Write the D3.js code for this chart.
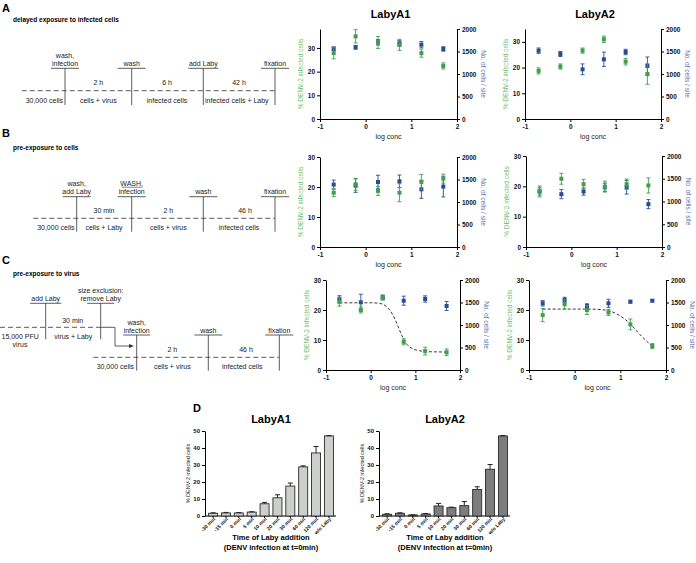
<!DOCTYPE html>
<html>
<head>
<meta charset="utf-8">
<script src="https://cdn.jsdelivr.net/npm/d3@7"></script>
<style>
body { margin: 0; background: #fff; }
svg { font-family: "Liberation Sans", Arial, sans-serif; }
</style>
</head>
<body>
<svg id="fig" width="696" height="563"></svg>
<script>
// ---------- data ----------
const logConc = [-0.7, -0.22, 0.27, 0.74, 1.22, 1.7];

// A: delayed exposure
const a1Green = [27.8, 34.9, 32.3, 31.3, 27.8, 22.4];
const a1GreenErr = [2.4, 2.8, 2.5, 2.3, 1.7, 1.3];
const a1Blue = [1562, 1593, 1704, 1682, 1651, 1556];
const a1BlueErr = [40, 40, 60, 60, 70, 50];
const a2Green = [18.7, 20.4, 26.6, 31.0, 22.3, 17.5];
const a2GreenErr = [1.2, 1.0, 1.0, 1.2, 1.3, 4.0];
const a2Blue = [1518, 1444, 1104, 1326, 1489, 1178];
const a2BlueErr = [60, 55, 120, 160, 60, 200];

// B: pre-exposure to cells
const b1Green = [18.1, 20.9, 18.7, 18.1, 21.7, 22.8];
const b1GreenErr = [1.3, 2.0, 1.5, 3.0, 2.5, 1.5];
const b1Blue = [1387, 1364, 1444, 1460, 1282, 1342];
const b1BlueErr = [100, 150, 150, 140, 200, 230];
const b2Green = [18.3, 22.5, 20.7, 19.9, 20.7, 20.3];
const b2GreenErr = [1.8, 1.8, 1.6, 1.8, 1.7, 2.5];
const b2Blue = [1220, 1161, 1218, 1313, 1313, 942];
const b2BlueErr = [80, 100, 80, 90, 150, 100];

// C: pre-exposure to virus
const c1Green = [22.8, 20.0, 24.1, 9.4, 6.3, 5.9];
const c1GreenErr = [1.5, 1.0, 0.8, 1.0, 1.3, 1.1];
const c1Blue = [1571, 1504, 1615, 1540, 1578, 1422];
const c1BlueErr = [80, 180, 50, 100, 70, 100];
const c2Green = [18.3, 21.9, 20.0, 19.2, 15.2, 8.0];
const c2GreenErr = [2.2, 1.5, 1.5, 1.0, 1.8, 0.8];
const c2Blue = [1482, 1556, 1422, 1482, 1518, 1540];
const c2BlueErr = [60, 60, 50, 90, 30, 25];

// fitted dose-response curves
const c1FitX = [-0.7, 0, 0.2, 0.35, 0.5, 0.6, 0.7, 0.8, 0.95, 1.1, 1.3, 1.7];
const c1FitY = [22.4, 22.4, 22.2, 21.2, 18.3, 15, 11.5, 8.8, 7.0, 6.4, 6.1, 6.0];
const c2FitX = [-0.7, 0.3, 0.6, 0.8, 1.0, 1.2, 1.4, 1.55, 1.7];
const c2FitY = [20.3, 20.3, 20.1, 19.5, 18.0, 15.6, 12.3, 10.0, 7.9];

// D: time of addition
const times = ["-30 min", "-15 min", "0 min", "5 min", "10 min", "20 min", "30 min", "60 min", "120 min", "w/o Laby"];
const d1Values = [1.6, 1.8, 1.8, 2.3, 7.2, 10.7, 17.6, 28.9, 37.1, 47.1];
const d1Err = [0.3, 0.3, 0.2, 0.2, 0.8, 1.8, 1.8, 0.6, 3.8, 0.2];
const d2Values = [1.0, 1.6, 0.6, 1.2, 5.9, 4.9, 6.1, 15.6, 27.5, 47.1];
const d2Err = [0.3, 0.3, 0.1, 0.3, 1.5, 0.3, 2.4, 1.6, 2.8, 0.2];

const leftTicks = [0, 10, 20, 30];
const rightTicks = [0, 500, 1000, 1500, 2000];
const xTicks = [-1, 0, 1, 2];
const barTicks = [0, 10, 20, 30, 40, 50];

const GREEN = "#3f9f4a";
const GREEN_LABEL = "#6cc06d";
const BLUE = "#2a4c97";
const BLUE_LABEL = "#5b6eb3";
const INK = "#333";

const svg = d3.select("#fig");

// ---------- helpers ----------
function styleAxis(g, size) {
  g.selectAll("path.domain").attr("stroke", "#000").attr("stroke-width", 1);
  g.selectAll(".tick line").attr("stroke", "#000");
  g.selectAll(".tick text")
    .attr("fill", "#111")
    .attr("font-size", size)
    .attr("font-weight", "bold")
    .attr("font-family", "Liberation Sans, Arial, sans-serif");
}

function doseChart(o) {
  const x = d3.scaleLinear().domain([-1, 2]).range([o.x0, o.x1]);
  const yL = d3.scaleLinear().domain([0, o.leftMax]).range([o.y1, o.y0]);
  const yR = d3.scaleLinear().domain([0, 2000]).range([o.y1, o.y0]);
  const g = svg.append("g");

  g.append("g").attr("transform", `translate(${o.x0},0)`)
    .call(d3.axisLeft(yL).tickValues(leftTicks).tickSize(3).tickSizeOuter(0).tickPadding(2))
    .call(a => styleAxis(a, 6.5));
  g.append("g").attr("transform", `translate(${o.x1},0)`)
    .call(d3.axisRight(yR).tickValues(rightTicks).tickFormat(d3.format("d")).tickSize(3).tickSizeOuter(0).tickPadding(2))
    .call(a => styleAxis(a, 6.5));
  g.append("g").attr("transform", `translate(0,${o.y1})`)
    .call(d3.axisBottom(x).tickValues(xTicks).tickFormat(d => String(d)).tickSize(3).tickSizeOuter(0).tickPadding(2))
    .call(a => styleAxis(a, 6.5));

  if (o.title) {
    g.append("text").attr("x", (o.x0 + o.x1) / 2 + 2).attr("y", o.y0 - 11)
      .attr("text-anchor", "middle").attr("font-size", 11).attr("font-weight", "bold")
      .text(o.title);
  }
  g.append("text").attr("x", (o.x0 + o.x1) / 2).attr("y", o.y1 + 20)
    .attr("text-anchor", "middle").attr("font-size", 7).attr("fill", "#222")
    .text("log conc");

  const cy = (o.y0 + o.y1) / 2;
  g.append("text").attr("transform", `translate(${o.x0 - 17},${cy}) rotate(-90)`)
    .attr("text-anchor", "middle").attr("font-size", 6.5).attr("fill", GREEN_LABEL)
    .text("% DENV-2 infected cells");
  g.append("text").attr("transform", `translate(${o.x1 + 24},${cy}) rotate(90)`)
    .attr("text-anchor", "middle").attr("font-size", 6.5).attr("fill", BLUE_LABEL)
    .text("No. of cells / site");

  if (o.fitX) {
    const pts = o.fitX.map((v, i) => [v, o.fitY[i]]);
    g.append("path")
      .attr("d", d3.line().x(d => x(d[0])).y(d => yL(d[1])).curve(d3.curveMonotoneX)(pts))
      .attr("fill", "none").attr("stroke", "#222").attr("stroke-width", 0.9)
      .attr("stroke-dasharray", "3,2");
  }

  function series(vals, errs, y, color) {
    const s = g.append("g").attr("stroke", color).attr("fill", color);
    logConc.forEach((c, i) => {
      const px = x(c);
      const top = y(vals[i] + errs[i]);
      const bot = y(vals[i] - errs[i]);
      s.append("line").attr("x1", px).attr("x2", px).attr("y1", top).attr("y2", bot).attr("stroke-width", 0.9);
      s.append("line").attr("x1", px - 2).attr("x2", px + 2).attr("y1", top).attr("y2", top).attr("stroke-width", 0.9);
      s.append("line").attr("x1", px - 2).attr("x2", px + 2).attr("y1", bot).attr("y2", bot).attr("stroke-width", 0.9);
      s.append("rect").attr("x", px - 2).attr("y", y(vals[i]) - 2).attr("width", 4).attr("height", 4).attr("stroke", "none");
    });
  }
  series(o.blue, o.blueErr, yR, BLUE);
  series(o.green, o.greenErr, yL, GREEN);
}

function barChart(o) {
  const x = d3.scaleBand().domain(times).range([o.axisX + 1, o.axisX + 131]).paddingInner(0.3).paddingOuter(0.2);
  const y = d3.scaleLinear().domain([0, 50]).range([o.y1, o.y0]);
  const g = svg.append("g");

  g.append("g").attr("transform", `translate(${o.axisX},0)`)
    .call(d3.axisLeft(y).tickValues(barTicks).tickSize(3).tickSizeOuter(0).tickPadding(2))
    .call(a => styleAxis(a, 6));
  g.append("line").attr("x1", o.axisX).attr("x2", o.axisX + 131)
    .attr("y1", o.y1).attr("y2", o.y1).attr("stroke", "#000");

  times.forEach((t, i) => {
    const bx = x(t);
    const bw = x.bandwidth();
    const cx = bx + bw / 2;
    g.append("rect").attr("x", bx).attr("y", y(o.values[i])).attr("width", bw)
      .attr("height", o.y1 - y(o.values[i])).attr("fill", o.fill)
      .attr("stroke", "#2a2a2a").attr("stroke-width", 0.9);
    const et = y(o.values[i] + o.err[i]);
    g.append("line").attr("x1", cx).attr("x2", cx).attr("y1", y(o.values[i])).attr("y2", et).attr("stroke", "#222");
    g.append("line").attr("x1", cx - 2.5).attr("x2", cx + 2.5).attr("y1", et).attr("y2", et).attr("stroke", "#222");
    g.append("line").attr("x1", cx).attr("x2", cx).attr("y1", o.y1).attr("y2", o.y1 + 2).attr("stroke", "#000");
    g.append("text").attr("transform", `translate(${cx + 2.5},${o.y1 + 3.5}) rotate(-45)`)
      .attr("text-anchor", "end").attr("font-size", 5).attr("font-weight", "bold").attr("fill", "#111")
      .text(t);
  });

  const mid = o.axisX + 66;
  g.append("text").attr("x", mid).attr("y", o.y0 - 8).attr("text-anchor", "middle")
    .attr("font-size", 11).attr("font-weight", "bold").text(o.title);
  g.append("text").attr("transform", `translate(${o.axisX - 15},${(o.y0 + o.y1) / 2}) rotate(-90)`)
    .attr("text-anchor", "middle").attr("font-size", 5.5).attr("fill", "#222")
    .text("% DENV-2 infected cells");
  g.append("text").attr("x", mid).attr("y", 540).attr("text-anchor", "middle")
    .attr("font-size", 7.5).attr("font-weight", "bold").text("Time of Laby addition");
  g.append("text").attr("x", mid).attr("y", 550).attr("text-anchor", "middle")
    .attr("font-size", 7.5).attr("font-weight", "bold").text("(DENV infection at t=0min)");
}

// ---------- timeline schematics ----------
const tl = svg.append("g").attr("font-size", 7).attr("fill", "#222");

function panelLetter(letter, x, y, sub, subY) {
  svg.append("text").attr("x", x).attr("y", y).attr("font-size", 11).attr("font-weight", "bold").text(letter);
  if (sub) {
    svg.append("text").attr("x", 13).attr("y", subY).attr("font-size", 6.5).attr("font-weight", "bold").text(sub);
  }
}

function dashed(x1, x2, y) {
  tl.append("line").attr("x1", x1).attr("x2", x2).attr("y1", y).attr("y2", y)
    .attr("stroke", INK).attr("stroke-width", 0.8).attr("stroke-dasharray", "5,3");
}

function marker(x, ulY, bottom, lines, ulW, underlineFirst) {
  tl.append("line").attr("x1", x - ulW / 2).attr("x2", x + ulW / 2).attr("y1", ulY).attr("y2", ulY)
    .attr("stroke", INK).attr("stroke-width", 0.8);
  tl.append("line").attr("x1", x).attr("x2", x).attr("y1", ulY).attr("y2", bottom)
    .attr("stroke", INK).attr("stroke-width", 0.8);
  const n = lines.length;
  lines.forEach((t, i) => {
    const ty = ulY - 2.5 - (n - 1 - i) * 8;
    tl.append("text").attr("x", x).attr("y", ty).attr("text-anchor", "middle").text(t);
    if (underlineFirst && i === 0) {
      tl.append("line").attr("x1", x - 10).attr("x2", x + 10).attr("y1", ty + 1).attr("y2", ty + 1)
        .attr("stroke", INK).attr("stroke-width", 0.6);
    }
  });
}

function label(t, x, y, anchor) {
  tl.append("text").attr("x", x).attr("y", y).attr("text-anchor", anchor || "middle").text(t);
}

// A
panelLetter("A", 2, 12, "delayed exposure to infected cells", 22);
dashed(21.7, 275, 90.7);
marker(65, 68.3, 105, ["wash,", "infection"], 28);
marker(131.7, 68.3, 105, ["wash"], 28);
marker(203.3, 68.3, 105, ["add Laby"], 30);
marker(275, 68.3, 105, ["fixation"], 28);
label("2 h", 98.3, 84.5);
label("6 h", 167, 84.5);
label("42 h", 239, 84.5);
label("30,000 cells", 63, 102.5, "end");
label("cells + virus", 98.3, 102.5);
label("infected cells", 167, 102.5);
label("infected cells + Laby", 205, 102.5, "start");

// B
panelLetter("B", 2, 137, "pre-exposure to cells", 150);
dashed(33.3, 275, 218.3);
marker(76.7, 196.7, 231.7, ["wash,", "add Laby"], 28);
marker(131.7, 196.7, 231.7, ["WASH,", "infection"], 28, true);
marker(203.3, 196.7, 231.7, ["wash"], 28);
marker(275, 196.7, 231.7, ["fixation"], 28);
label("30 min", 104, 212.5);
label("2 h", 168.3, 212.5);
label("46 h", 245, 212.5);
label("30,000 cells", 74.5, 230.2, "end");
label("cells + Laby", 104, 230.2);
label("cells + virus", 168.3, 230.2);
label("infected cells", 239, 230.2);

// C
panelLetter("C", 2, 264, "pre-exposure to virus", 276);
dashed(0, 100.7, 327.3);
marker(45.7, 303.3, 339.3, ["add Laby"], 31);
marker(100.7, 303.3, 339.3, ["size exclusion:", "remove Laby"], 27);
label("30 min", 72.7, 322.5);
label("15,000 PFU", 1.5, 338.5, "start");
label("virus", 20, 347);
label("virus + Laby", 73.3, 338.5);
tl.append("path").attr("d", "M100.7,327.3H115V346H130")
  .attr("fill", "none").attr("stroke", INK).attr("stroke-width", 0.8);
tl.append("path").attr("d", "M134,346L129,344L129,348Z").attr("fill", INK);
dashed(93.3, 279.3, 357.3);
marker(136.7, 335, 370.7, ["wash,", "infection"], 27);
marker(208.3, 335, 370.7, ["wash"], 28);
marker(279.3, 335, 370.7, ["fixation"], 28);
label("2 h", 172.3, 352);
label("46 h", 246, 352);
label("30,000 cells", 134, 369.3, "end");
label("cells + virus", 172.3, 369.3);
label("infected cells", 222, 369.3, "start");

// ---------- dose-response charts ----------
doseChart({ x0: 320, x1: 457, y0: 29, y1: 119, leftMax: 38, title: "LabyA1",
  green: a1Green, greenErr: a1GreenErr, blue: a1Blue, blueErr: a1BlueErr });
doseChart({ x0: 525, x1: 661, y0: 29, y1: 119, leftMax: 35, title: "LabyA2",
  green: a2Green, greenErr: a2GreenErr, blue: a2Blue, blueErr: a2BlueErr });
doseChart({ x0: 320, x1: 457, y0: 157, y1: 247, leftMax: 30,
  green: b1Green, greenErr: b1GreenErr, blue: b1Blue, blueErr: b1BlueErr });
doseChart({ x0: 526, x1: 662, y0: 156, y1: 247, leftMax: 30,
  green: b2Green, greenErr: b2GreenErr, blue: b2Blue, blueErr: b2BlueErr });
doseChart({ x0: 326, x1: 460, y0: 280, y1: 370, leftMax: 30,
  green: c1Green, greenErr: c1GreenErr, blue: c1Blue, blueErr: c1BlueErr, fitX: c1FitX, fitY: c1FitY });
doseChart({ x0: 529, x1: 666, y0: 280, y1: 370, leftMax: 30,
  green: c2Green, greenErr: c2GreenErr, blue: c2Blue, blueErr: c2BlueErr, fitX: c2FitX, fitY: c2FitY });

// ---------- time-of-addition bars ----------
svg.append("text").attr("x", 193).attr("y", 412).attr("font-size", 11).attr("font-weight", "bold").text("D");
barChart({ axisX: 205, y0: 431, y1: 516, values: d1Values, err: d1Err, fill: "#cdcfcd", title: "LabyA1" });
barChart({ axisX: 379, y0: 431, y1: 516, values: d2Values, err: d2Err, fill: "#7d7d7d", title: "LabyA2" });
</script>
</body>
</html>
